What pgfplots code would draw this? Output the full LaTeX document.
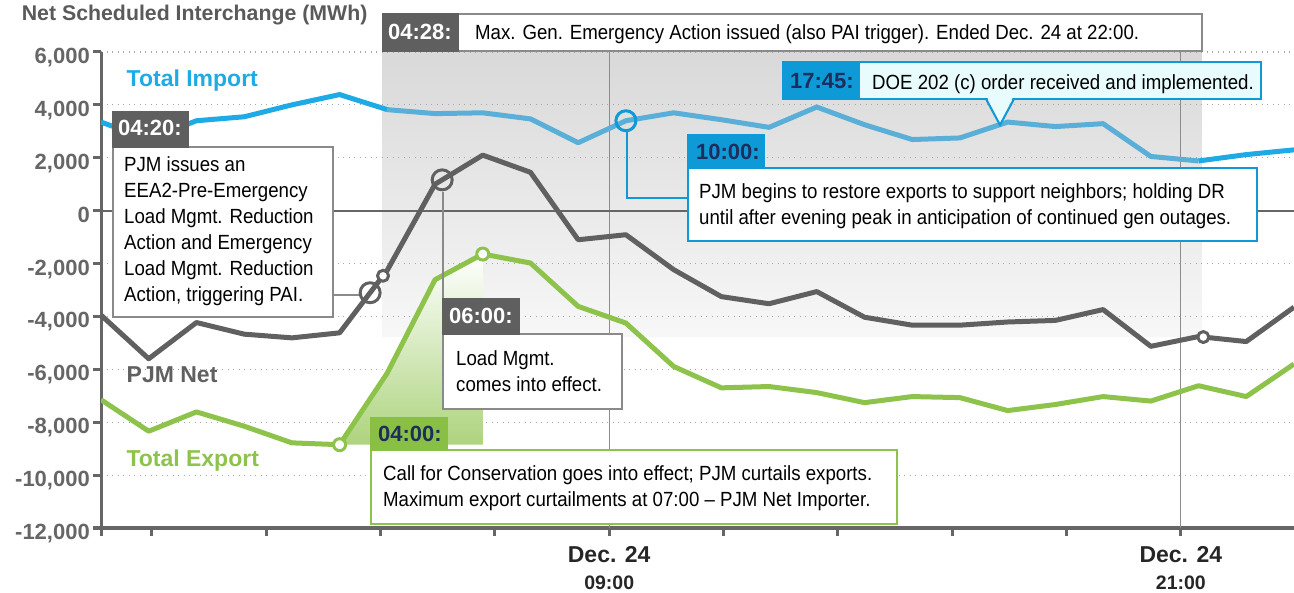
\documentclass[border=0pt]{standalone}
\usepackage{pgfplots}
\usepackage{pgfplotstable}
\pgfplotsset{compat=1.18}
\usepackage{fontspec}
\setmainfont{Liberation Sans}
\newfontfamily\cond[FakeStretch=0.91]{Liberation Sans}
\definecolor{axgray}{HTML}{666666}
\definecolor{titlegray}{HTML}{5A5A5A}
\definecolor{netgray}{HTML}{606060}
\definecolor{hdrgray}{HTML}{5F5F5F}
\definecolor{boxgray}{HTML}{8A8A8A}
\definecolor{impblue}{HTML}{1EAAE4}
\definecolor{impmuted}{HTML}{5AAFD8}
\definecolor{hdrblue}{HTML}{0E9AD7}
\definecolor{cyanfill}{HTML}{E8FBFD}
\definecolor{expgreen}{HTML}{8DC34B}
\definecolor{hdrgreen}{HTML}{8ABF45}
\definecolor{navy}{HTML}{1D2E5C}
\definecolor{gridgray}{HTML}{A8A8A8}
\definecolor{vline}{HTML}{8C8C8C}
\newcommand\bodyf{\cond\fontsize{20.5}{26}\selectfont}
\newcommand\hdrf{\bfseries\fontsize{22}{26}\selectfont}
\newcommand\serf{\bfseries\fontsize{23}{26}\selectfont}

\pgfplotstableread{
h imp net exp
0 3350 -3950 -7150
1 2700 -5600 -8340
2 3400 -4230 -7610
3 3550 -4670 -8150
4 4000 -4810 -8780
5 4390 -4620 -8850
6 3820 -2250 -6135
7 3670 1000 -2610
8 3700 2100 -1640
9 3470 1450 -1980
10 2570 -1100 -3620
11 3400 -910 -4250
12 3700 -2230 -5890
13 3440 -3250 -6700
14 3150 -3520 -6650
15 3920 -3060 -6880
16 3250 -4030 -7260
17 2690 -4330 -7030
18 2750 -4330 -7070
19 3350 -4210 -7560
20 3180 -4150 -7330
21 3290 -3740 -7030
22 2050 -5130 -7200
23 1880 -4760 -6620
24 2120 -4950 -7030
25 2300 -3650 -5800
}\datatab

\begin{document}
\begin{tikzpicture}
\begin{axis}[
  at={(101pt,-528pt)}, anchor=south west,
  scale only axis, width=1193pt, height=476pt,
  set layers,
  xmin=0, xmax=25, ymin=-12000, ymax=6000,
  axis lines*=left,
  axis line style={-, draw=axgray, line width=3pt},
  tick style={draw=axgray, line width=3pt},
  major tick length=8pt, tick align=outside,
  scaled y ticks=false,
  ytick={-12000,-10000,-8000,-6000,-4000,-2000,0,2000,4000,6000},
  yticklabels={{-12,000},{-10,000},{-8,000},{-6,000},{-4,000},{-2,000},{0},{2,000},{4,000},{6,000}},
  yticklabel style={anchor=base east, inner sep=0pt, xshift=-3pt, yshift=-11.5pt,
    font=\bfseries\fontsize{22}{24}\selectfont, text=axgray},
  xtick={0,1.06,3.46,5.85,8.25,10.65,13.04,15.44,17.84,20.23,22.63},
  xticklabels={{},{},{},{},{},{Dec. 24\\[2.5pt]{\fontsize{19.5}{24}\selectfont 09:00}},{},{},{},{},{Dec. 24\\[2.5pt]{\fontsize{19.5}{24}\selectfont 21:00}}},
  xticklabel style={anchor=north, inner sep=0pt, align=center, yshift=-10.7pt,
    font=\bfseries\fontsize{23}{24}\selectfont, text=black!85},
  ymajorgrids=true,
  major grid style={draw=gridgray, line width=1.2pt, dash pattern=on 1.3pt off 4.2pt},
  title={Net Scheduled Interchange (MWh)},
  title style={at={(axis description cs:-0.0665,1.0532)}, anchor=base west, inner sep=0pt,
    font=\bfseries\fontsize{21.3}{24}\selectfont, text=titlegray},
  line join=round,
]
\begin{pgfonlayer}{axis background}
\path[top color=gray!30, bottom color=gray!6] (axis cs:5.9,6000) rectangle (axis cs:23.07,-4770);
\end{pgfonlayer}
\draw[vline, line width=1.2pt] (axis cs:10.65,-12000) -- (axis cs:10.65,6000);
\draw[vline, line width=1.2pt] (axis cs:22.63,-12000) -- (axis cs:22.63,6000);
\draw[axgray, line width=2.2pt] (axis cs:0,0) -- (axis cs:25,0);
% green highlighted area
\addplot[draw=none, shading angle=45, top color=white, bottom color=expgreen!72] coordinates {(5,-8850) (6,-6135) (7,-2610) (8,-1640) (8,-8850)} -- cycle;
% lines
\addplot[expgreen, line width=5pt, mark=none] table[x=h, y=exp]{\datatab};
\addplot[netgray, line width=5pt, mark=none] table[x=h, y=net]{\datatab};
\addplot[impblue, line width=5pt, mark=none, restrict x to domain=0:6] table[x=h, y=imp]{\datatab};
\addplot[impmuted, line width=5pt, mark=none, restrict x to domain=6:23] table[x=h, y=imp]{\datatab};
\addplot[impblue, line width=5pt, mark=none, restrict x to domain=23:25] table[x=h, y=imp]{\datatab};
% event markers
\addplot[only marks, mark=o, mark size=10pt, mark options={draw=netgray, line width=3pt}] coordinates {(5.64,-3103) (7.15,1165)};
\addplot[only marks, mark=*, mark size=5.5pt, mark options={draw=netgray, fill=white, line width=3pt}] coordinates {(5.91,-2463) (23.1,-4780)};
\addplot[only marks, mark=*, mark size=6pt, mark options={draw=expgreen, fill=white, line width=3pt}] coordinates {(5,-8850) (8,-1640)};
\addplot[only marks, mark=o, mark size=10pt, mark options={draw=hdrblue, line width=3pt}] coordinates {(11,3400)};
\end{axis}

\begin{scope}[x=1pt, y=-1pt]
% series labels
\node[anchor=base west, inner sep=0pt, font=\serf, text=impblue] at (126.5,87) {Total Import};
\node[anchor=base west, inner sep=0pt, font=\serf, text=netgray] at (126.5,382.5) {PJM Net};
\node[anchor=base west, inner sep=0pt, font=\serf, text=expgreen] at (126.3,466.5) {Total Export};

% 04:28
\draw[boxgray, line width=1.5pt, fill=white] (383,14) rectangle (1202,51);
\fill[hdrgray] (382.25,13.25) rectangle (459,51.75);
\node[anchor=base west, inner sep=0pt, font=\hdrf, text=white] at (388,40) {04:28:};
\node[anchor=base west, inner sep=0pt, font=\bodyf] at (475,39.5) {Max. Gen. Emergency Action issued (also PAI trigger). Ended Dec. 24 at 22:00.};

% 17:45
\draw[hdrblue, line width=2pt, fill=cyanfill] (859,62) rectangle (1261,99);
\fill[hdrblue] (782,61) rectangle (859,100);
\fill[cyanfill] (987,97) -- (1013,97) -- (1000,123) -- cycle;
\draw[hdrblue, line width=2pt] (986,99) -- (1000,125) -- (1014,99);
\node[anchor=base west, inner sep=0pt, font=\hdrf, text=navy] at (790,88.5) {17:45:};
\node[anchor=base west, inner sep=0pt, font=\bodyf] at (872,89.5) {DOE 202 (c) order received and implemented.};

% 10:00
\draw[hdrblue, line width=2pt] (627,131) -- (627,198) -- (688,198);
\draw[hdrblue, line width=2pt, fill=white] (688,168) rectangle (1257,241);
\fill[hdrblue] (687,134) rectangle (765,169);
\node[anchor=base west, inner sep=0pt, font=\hdrf, text=navy] at (696,159.5) {10:00:};
\node[anchor=base west, inner sep=0pt, font=\bodyf] at (699,198.5) {PJM begins to restore exports to support neighbors; holding DR};
\node[anchor=base west, inner sep=0pt, font=\bodyf] at (699,224.5) {until after evening peak in anticipation of continued gen outages.};

% 04:20
\draw[boxgray, line width=1.5pt] (333,295) -- (359,295);
\draw[boxgray, line width=1.5pt, fill=white] (113,147) rectangle (333,317);
\fill[hdrgray] (112.25,111) rectangle (189,147.75);
\node[anchor=base west, inner sep=0pt, font=\hdrf, text=white] at (118,136) {04:20:};
\node[anchor=base west, inner sep=0pt, font=\bodyf] at (124,172) {PJM issues an};
\node[anchor=base west, inner sep=0pt, font=\bodyf] at (124,198) {EEA2-Pre-Emergency};
\node[anchor=base west, inner sep=0pt, font=\bodyf] at (124,224) {Load Mgmt. Reduction};
\node[anchor=base west, inner sep=0pt, font=\bodyf] at (124,250) {Action and Emergency};
\node[anchor=base west, inner sep=0pt, font=\bodyf] at (124,276) {Load Mgmt. Reduction};
\node[anchor=base west, inner sep=0pt, font=\bodyf] at (124,302) {Action, triggering PAI.};

% 06:00
\draw[boxgray, line width=1.5pt] (443,192) -- (443,298);
\draw[boxgray, line width=1.5pt, fill=white] (443,334) rectangle (622,409);
\fill[hdrgray] (442.25,298) rectangle (520,334.75);
\node[anchor=base west, inner sep=0pt, font=\hdrf, text=white] at (449,323.5) {06:00:};
\node[anchor=base west, inner sep=0pt, font=\bodyf] at (456,366) {Load Mgmt.};
\node[anchor=base west, inner sep=0pt, font=\bodyf] at (456,392) {comes into effect.};

% 04:00
\draw[expgreen, line width=2pt, fill=white] (371,450) rectangle (897,524);
\fill[hdrgreen] (370,417) rectangle (448,451);
\node[anchor=base west, inner sep=0pt, font=\hdrf, text=navy] at (378,442) {04:00:};
\node[anchor=base west, inner sep=0pt, font=\bodyf] at (383,481) {Call for Conservation goes into effect; PJM curtails exports.};
\node[anchor=base west, inner sep=0pt, font=\bodyf] at (383,507) {Maximum export curtailments at 07:00 – PJM Net Importer.};
\end{scope}
\pgfresetboundingbox
\useasboundingbox (0pt,0pt) rectangle (1294pt,-593pt);
\end{tikzpicture}
\end{document}
